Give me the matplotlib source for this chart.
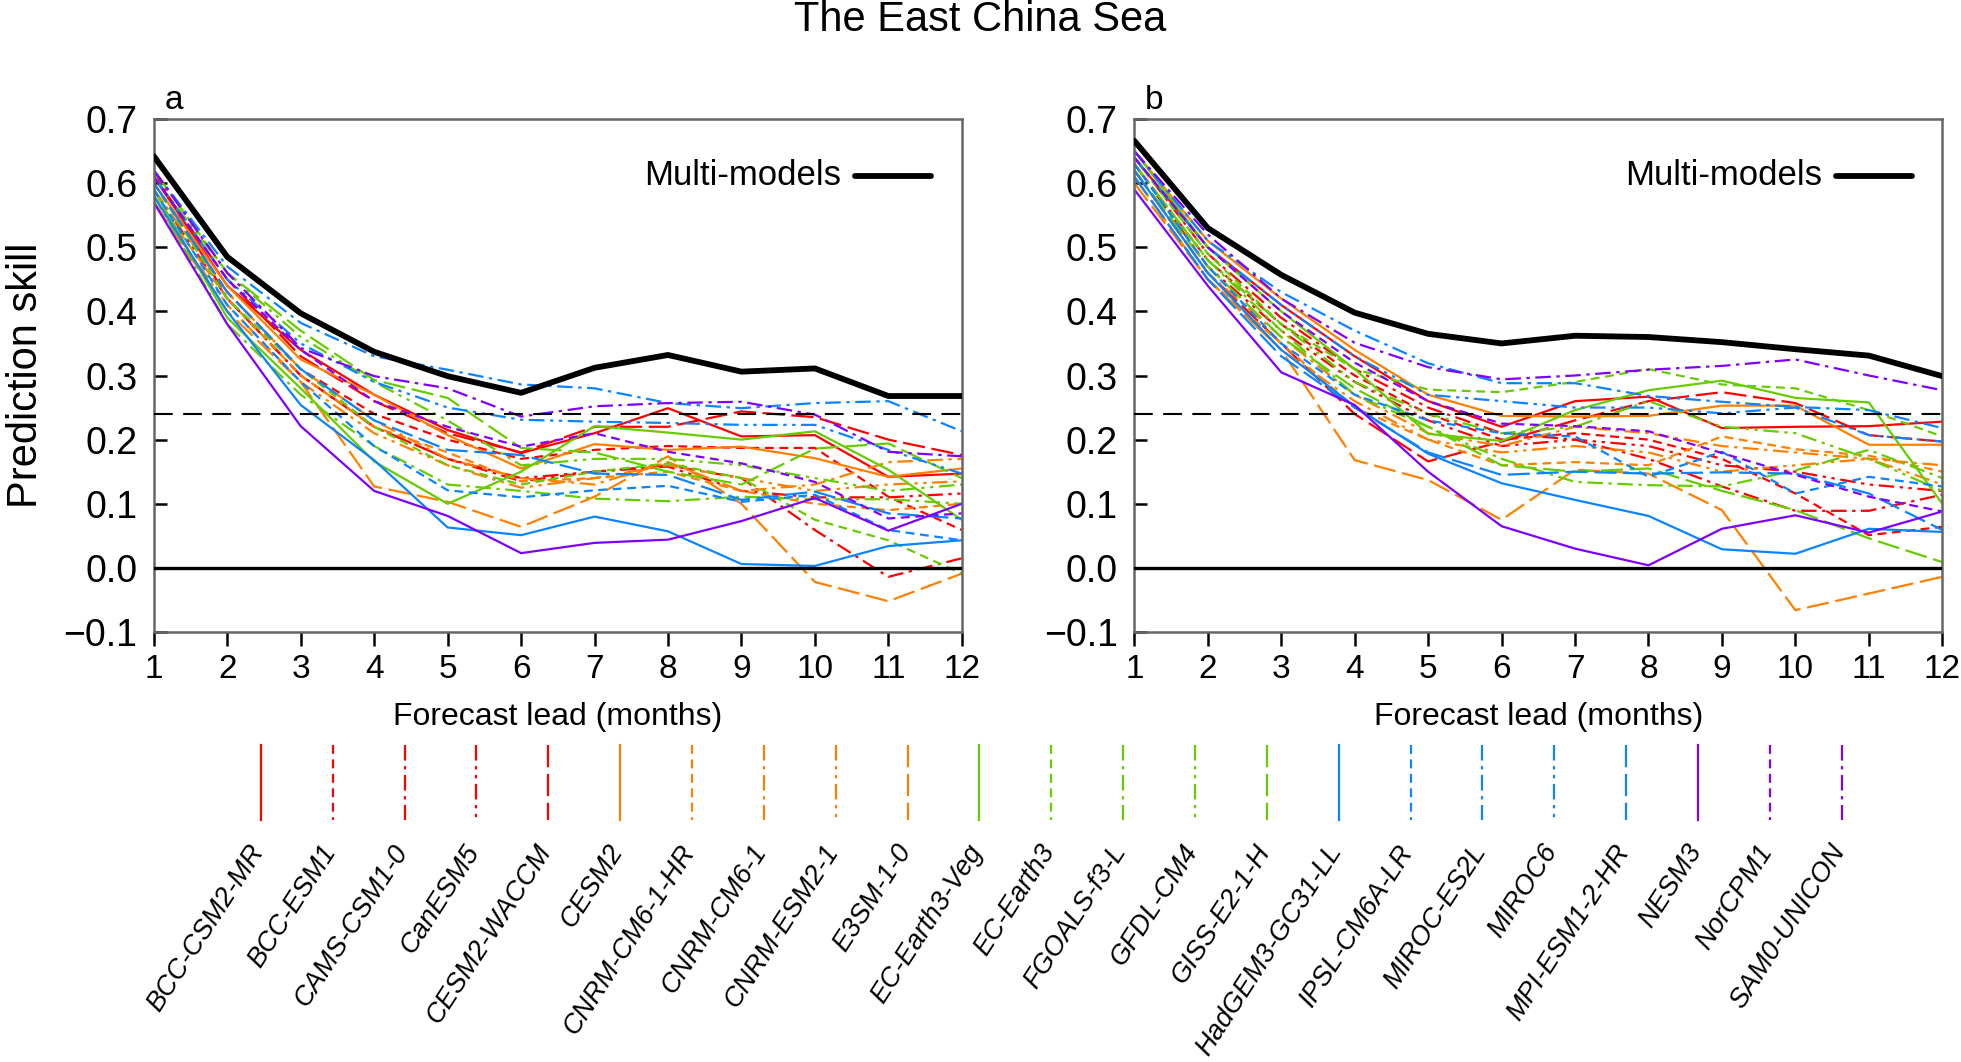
import matplotlib
matplotlib.use("Agg")
import matplotlib.pyplot as plt
import numpy as np

plt.rcParams['font.family'] = ['Liberation Sans', 'DejaVu Sans']

# ---------------- data ----------------
leads = list(range(1, 13))
xticks = list(range(1, 13))
yticks = [-0.1, 0.0, 0.1, 0.2, 0.3, 0.4, 0.5, 0.6, 0.7]
significance = 0.24

models = ["BCC-CSM2-MR", "BCC-ESM1", "CAMS-CSM1-0", "CanESM5", "CESM2-WACCM",
          "CESM2", "CNRM-CM6-1-HR", "CNRM-CM6-1", "CNRM-ESM2-1", "E3SM-1-0",
          "EC-Earth3-Veg", "EC-Earth3", "FGOALS-f3-L", "GFDL-CM4", "GISS-E2-1-H",
          "HadGEM3-GC31-LL", "IPSL-CM6A-LR", "MIROC-ES2L", "MIROC6", "MPI-ESM1-2-HR",
          "NESM3", "NorCPM1", "SAM0-UNICON"]

# panel a (raw skill)
mme_a = [0.642, 0.485, 0.397, 0.337, 0.299, 0.273, 0.312, 0.332, 0.306, 0.311, 0.268, 0.268]
a_bcc_csm2_mr = [0.61, 0.44, 0.34, 0.27, 0.215, 0.179, 0.21, 0.249, 0.205, 0.207, 0.142, 0.147]
a_bcc_esm1 = [0.60, 0.43, 0.31, 0.24, 0.20, 0.17, 0.184, 0.19, 0.187, 0.187, 0.111, 0.059]
a_cams_csm1_0 = [0.62, 0.42, 0.30, 0.22, 0.17, 0.135, 0.15, 0.16, 0.14, 0.059, -0.014, 0.015]
a_canesm5 = [0.59, 0.42, 0.30, 0.22, 0.17, 0.14, 0.15, 0.158, 0.12, 0.11, 0.11, 0.116]
a_cesm2_waccm = [0.61, 0.45, 0.33, 0.26, 0.21, 0.18, 0.22, 0.22, 0.244, 0.235, 0.20, 0.176]
a_cesm2 = [0.60, 0.44, 0.325, 0.27, 0.207, 0.155, 0.193, 0.184, 0.189, 0.171, 0.142, 0.155]
a_cnrm_cm6_1_hr = [0.58, 0.42, 0.30, 0.22, 0.18, 0.135, 0.14, 0.15, 0.12, 0.10, 0.09, 0.10]
a_cnrm_cm6_1 = [0.59, 0.43, 0.31, 0.23, 0.17, 0.14, 0.13, 0.165, 0.12, 0.13, 0.165, 0.17]
a_cnrm_esm2_1 = [0.57, 0.41, 0.29, 0.21, 0.16, 0.125, 0.14, 0.16, 0.14, 0.12, 0.13, 0.135]
a_e3sm_1_0 = [0.57, 0.40, 0.29, 0.127, 0.103, 0.064, 0.111, 0.174, 0.10, -0.022, -0.052, -0.009]
a_ec_earth3_veg = [0.59, 0.39, 0.28, 0.166, 0.10, 0.15, 0.221, 0.211, 0.20, 0.213, 0.153, 0.075]
a_ec_earth3 = [0.60, 0.42, 0.31, 0.22, 0.16, 0.13, 0.15, 0.163, 0.14, 0.075, 0.043, -0.009]
a_fgoals_f3_l = [0.58, 0.38, 0.27, 0.19, 0.13, 0.12, 0.108, 0.104, 0.111, 0.107, 0.107, 0.10]
a_gfdl_cm4 = [0.61, 0.46, 0.36, 0.29, 0.23, 0.16, 0.17, 0.17, 0.16, 0.14, 0.12, 0.13]
a_giss_e2_1_h = [0.62, 0.46, 0.37, 0.293, 0.265, 0.187, 0.18, 0.15, 0.13, 0.186, 0.194, 0.14]
a_hadgem3 = [0.58, 0.40, 0.254, 0.168, 0.063, 0.051, 0.080, 0.057, 0.006, 0.003, 0.034, 0.043]
a_ipsl = [0.59, 0.41, 0.29, 0.19, 0.121, 0.110, 0.121, 0.128, 0.103, 0.114, 0.059, 0.043]
a_miroc_es2l = [0.62, 0.47, 0.382, 0.330, 0.309, 0.286, 0.280, 0.257, 0.249, 0.257, 0.260, 0.213]
a_miroc6 = [0.61, 0.45, 0.35, 0.29, 0.25, 0.231, 0.228, 0.226, 0.223, 0.223, 0.184, 0.147]
a_mpi = [0.60, 0.43, 0.31, 0.23, 0.184, 0.176, 0.147, 0.145, 0.106, 0.119, 0.085, 0.077]
a_nesm3 = [0.57, 0.38, 0.221, 0.120, 0.081, 0.023, 0.039, 0.044, 0.073, 0.109, 0.058, 0.10]
a_norcpm1 = [0.61, 0.45, 0.34, 0.26, 0.22, 0.189, 0.21, 0.181, 0.163, 0.134, 0.077, 0.085]
a_sam0_unicon = [0.62, 0.46, 0.343, 0.299, 0.28, 0.236, 0.252, 0.257, 0.259, 0.239, 0.181, 0.174]

# panel b
mme_b = [0.666, 0.530, 0.457, 0.398, 0.365, 0.350, 0.362, 0.360, 0.352, 0.341, 0.331, 0.299]
b_bcc_csm2_mr = [0.64, 0.50, 0.41, 0.33, 0.26, 0.22, 0.26, 0.267, 0.218, 0.22, 0.221, 0.228]
b_bcc_esm1 = [0.63, 0.48, 0.38, 0.30, 0.24, 0.20, 0.21, 0.20, 0.17, 0.116, 0.051, 0.064]
b_cams_csm1_0 = [0.64, 0.49, 0.39, 0.31, 0.25, 0.21, 0.20, 0.17, 0.127, 0.089, 0.089, 0.114]
b_canesm5 = [0.63, 0.47, 0.37, 0.29, 0.23, 0.19, 0.20, 0.19, 0.16, 0.15, 0.13, 0.12]
b_cesm2_waccm = [0.62, 0.46, 0.35, 0.24, 0.166, 0.197, 0.23, 0.26, 0.274, 0.257, 0.207, 0.197]
b_cesm2 = [0.65, 0.51, 0.42, 0.34, 0.27, 0.237, 0.236, 0.237, 0.253, 0.253, 0.192, 0.192]
b_cnrm_cm6_1_hr = [0.61, 0.45, 0.35, 0.25, 0.20, 0.16, 0.165, 0.16, 0.205, 0.185, 0.175, 0.15]
b_cnrm_cm6_1 = [0.62, 0.46, 0.36, 0.27, 0.21, 0.19, 0.22, 0.21, 0.19, 0.18, 0.17, 0.16]
b_cnrm_esm2_1 = [0.61, 0.45, 0.34, 0.26, 0.20, 0.18, 0.19, 0.18, 0.15, 0.16, 0.17, 0.13]
b_e3sm_1_0 = [0.60, 0.45, 0.34, 0.168, 0.137, 0.075, 0.153, 0.147, 0.09, -0.066, -0.04, -0.014]
b_ec_earth3_veg = [0.65, 0.50, 0.40, 0.31, 0.209, 0.198, 0.246, 0.277, 0.292, 0.265, 0.258, 0.10]
b_ec_earth3 = [0.64, 0.49, 0.38, 0.31, 0.278, 0.274, 0.29, 0.31, 0.286, 0.28, 0.246, 0.205]
b_fgoals_f3_l = [0.63, 0.48, 0.37, 0.27, 0.22, 0.17, 0.134, 0.129, 0.127, 0.152, 0.184, 0.14]
b_gfdl_cm4 = [0.63, 0.48, 0.38, 0.29, 0.24, 0.21, 0.22, 0.26, 0.22, 0.21, 0.17, 0.12]
b_giss_e2_1_h = [0.62, 0.47, 0.36, 0.28, 0.22, 0.16, 0.15, 0.155, 0.12, 0.09, 0.046, 0.009]
b_hadgem3 = [0.62, 0.46, 0.34, 0.252, 0.178, 0.132, 0.106, 0.081, 0.029, 0.022, 0.061, 0.056]
b_ipsl = [0.63, 0.47, 0.35, 0.27, 0.23, 0.21, 0.205, 0.142, 0.181, 0.116, 0.142, 0.127]
b_miroc_es2l = [0.65, 0.51, 0.43, 0.37, 0.319, 0.288, 0.288, 0.268, 0.259, 0.251, 0.246, 0.218]
b_miroc6 = [0.64, 0.50, 0.41, 0.33, 0.27, 0.26, 0.25, 0.25, 0.241, 0.25, 0.207, 0.197]
b_mpi = [0.61, 0.45, 0.33, 0.25, 0.18, 0.145, 0.15, 0.147, 0.149, 0.147, 0.116, 0.059]
b_nesm3 = [0.59, 0.44, 0.305, 0.254, 0.150, 0.065, 0.03, 0.004, 0.061, 0.082, 0.055, 0.088]
b_norcpm1 = [0.64, 0.50, 0.40, 0.32, 0.26, 0.225, 0.221, 0.213, 0.179, 0.145, 0.111, 0.088]
b_sam0_unicon = [0.65, 0.52, 0.42, 0.351, 0.313, 0.294, 0.30, 0.309, 0.315, 0.325, 0.30, 0.277]

series_a = [a_bcc_csm2_mr, a_bcc_esm1, a_cams_csm1_0, a_canesm5, a_cesm2_waccm,
            a_cesm2, a_cnrm_cm6_1_hr, a_cnrm_cm6_1, a_cnrm_esm2_1, a_e3sm_1_0,
            a_ec_earth3_veg, a_ec_earth3, a_fgoals_f3_l, a_gfdl_cm4, a_giss_e2_1_h,
            a_hadgem3, a_ipsl, a_miroc_es2l, a_miroc6, a_mpi,
            a_nesm3, a_norcpm1, a_sam0_unicon]
series_b = [b_bcc_csm2_mr, b_bcc_esm1, b_cams_csm1_0, b_canesm5, b_cesm2_waccm,
            b_cesm2, b_cnrm_cm6_1_hr, b_cnrm_cm6_1, b_cnrm_esm2_1, b_e3sm_1_0,
            b_ec_earth3_veg, b_ec_earth3, b_fgoals_f3_l, b_gfdl_cm4, b_giss_e2_1_h,
            b_hadgem3, b_ipsl, b_miroc_es2l, b_miroc6, b_mpi,
            b_nesm3, b_norcpm1, b_sam0_unicon]

# ---------------- styles ----------------
group_colors = ['#ff0000', '#ff8000', '#66cc00', '#0a84ff', '#8000ff']
dash_styles = ['-', (0, (4, 2.5)), (0, (7, 2.5, 1.5, 2.5)),
               (0, (7, 2.5, 1.5, 2.5, 1.5, 2.5)), (0, (10, 3))]
colors = [group_colors[i // 5] for i in range(len(models))]
styles = [dash_styles[i % 5] for i in range(len(models))]

W, H = 1961, 1062
fig = plt.figure(figsize=(W / 100, H / 100), dpi=100)

bottom = 1 - 632 / H
top = 1 - 119 / H
lefts = [153.8 / W, 1134.3 / W]
width = 808 / W

for k, (series, mme, letter) in enumerate([(series_a, mme_a, 'a'), (series_b, mme_b, 'b')]):
    ax = fig.add_axes([lefts[k], bottom, width, top - bottom])
    for s, c, ls in zip(series, colors, styles):
        ax.plot(leads, s, color=c, linestyle=ls, linewidth=1.6, zorder=2)
    ax.axhline(0.0, color='black', linewidth=2.4, zorder=3)
    ax.axhline(significance, color='black', linewidth=1.5, linestyle=(0, (9, 5)), zorder=3)
    ax.plot(leads, mme, color='black', linewidth=4.2, zorder=4, solid_capstyle='round')
    ax.set_xlim(1, 12)
    ax.set_ylim(-0.1, 0.7)
    ax.set_xticks(xticks)
    ax.set_yticks(yticks)
    ax.set_yticklabels([f"{v:.1f}".replace('-', '\u2212') for v in yticks])
    ax.tick_params(axis='y', direction='in', length=9, width=1.8, labelsize=27, pad=12,
                   right=False)
    ax.tick_params(axis='x', direction='out', length=10, width=1.8, labelsize=24, pad=6,
                   top=False)
    for sp in ax.spines.values():
        sp.set_color('#666666')
        sp.set_linewidth(1.8)
    ax.set_xlabel('Forecast lead (months)', fontsize=23, labelpad=12)
    if k == 0:
        ax.set_ylabel('Prediction skill', fontsize=30, labelpad=12)
    ax.text(0.013, 1.005, letter, transform=ax.transAxes, fontsize=24,
            ha='left', va='bottom')
    # Multi-models legend
    ax.plot([0.868, 0.962], [0.889, 0.889], transform=ax.transAxes, color='black',
            linewidth=4.2, solid_capstyle='round', zorder=5)
    ax.text(0.851, 0.889, 'Multi-models', transform=ax.transAxes, fontsize=25,
            ha='right', va='center', zorder=5)

fig.text(980 / W, 1 - 20 / H, 'The East China Sea', fontsize=30, ha='center', va='center')

# bottom legend
lax = fig.add_axes([0, 0, 1, 1])
lax.set_xlim(0, W)
lax.set_ylim(H, 0)
lax.axis('off')
for i, (m, c, ls) in enumerate(zip(models, colors, styles)):
    x = 260.9 + i * 71.85
    lax.plot([x, x], [745, 820], color=c, linestyle=ls, linewidth=1.6)
    lax.text(x - 13, 840, m, rotation=57, rotation_mode='anchor', ha='right', va='top',
             fontsize=19.5, fontstyle='italic')

fig.savefig('out.png', dpi=100)
